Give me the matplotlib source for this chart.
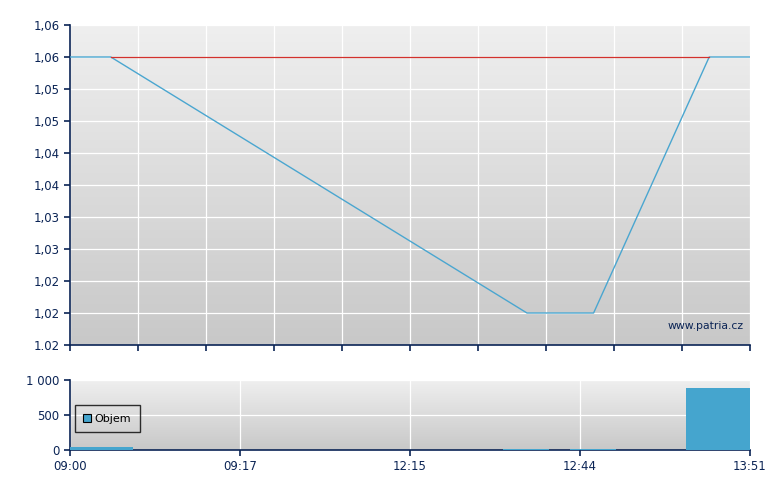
"""Patria-style intraday chart: price line on top, volume bars below."""

import matplotlib

matplotlib.use("Agg")
import matplotlib.pyplot as plt
import numpy as np

# price series on an index axis (0..10)
price_x = [0.0, 0.6, 6.72, 7.7, 9.4, 10.0]
price_y = [1.06, 1.06, 1.02, 1.02, 1.06, 1.06]
ref_price = 1.06
ref_span = [0.6, 9.4]

price_ticks = [1.015, 1.02, 1.025, 1.03, 1.035, 1.04, 1.045, 1.05, 1.055, 1.06, 1.065]
price_labels = ["1.02", "1,02", "1,02", "1,03", "1,03", "1,04", "1,04",
                "1,05", "1,05", "1,06", "1,06"]

# volume bars
vol_left = [0.0, 6.37, 7.35, 9.06]
vol_width = [0.93, 0.68, 0.68, 0.94]
vol_value = [45, 8, 8, 890]

time_pos = [0, 2.5, 5, 7.5, 10]
time_labels = ["09:00", "09:17", "12:15", "12:44", "13:51"]
vol_ticks = [0, 500, 1000]
vol_labels = ["0", "500", "1 000"]

NAVY = "#0B2455"
BLUE = "#4AA6D0"
BAR = "#45A5CE"
RED = "#D2302C"

plt.rcParams["font.family"] = ["DejaVu Sans"]
plt.rcParams["font.size"] = 8


def gradient(ax, top="#EFEFEF", bottom="#C8C8C8"):
    c1 = np.array(matplotlib.colors.to_rgb(top))
    c2 = np.array(matplotlib.colors.to_rgb(bottom))
    t = np.linspace(0, 1, 256)[:, None]
    img = (c1 * (1 - t) + c2 * t)[:, None, :]
    ax.imshow(img, extent=[0, 1, 0, 1], transform=ax.transAxes,
              aspect="auto", zorder=0)


def style(ax):
    for s in ("top", "right"):
        ax.spines[s].set_visible(False)
    for s in ("left", "bottom"):
        ax.spines[s].set_color(NAVY)
        ax.spines[s].set_linewidth(1.2)
    ax.tick_params(colors=NAVY, labelcolor=NAVY, direction="out",
                   length=4, width=1.2, labelsize=8.5)
    ax.set_facecolor("none")


fig = plt.figure(figsize=(7.8, 4.9), dpi=100)
ax1 = fig.add_axes([70 / 780, 1 - 345 / 490, 680 / 780, 320 / 490])
ax2 = fig.add_axes([70 / 780, 1 - 450 / 490, 680 / 780, 70 / 490])

# --- price panel
gradient(ax1)
style(ax1)
ax1.set_xlim(0, 10)
ax1.set_ylim(price_ticks[0], price_ticks[-1])
ax1.set_yticks(price_ticks)
ax1.set_yticklabels(price_labels)
ax1.set_xticks(np.arange(0, 11))
ax1.set_xticklabels([])
ax1.grid(True, color="white", lw=0.9, zorder=1)
ax1.plot(price_x, price_y, color=BLUE, lw=1.0, zorder=3)
ax1.plot(ref_span, [ref_price, ref_price], color=RED, lw=0.9, zorder=4)
ax1.text(0.99, 0.06, "www.patria.cz", transform=ax1.transAxes,
         ha="right", va="center", color=NAVY, fontsize=7.8, zorder=5)

# --- volume panel
gradient(ax2)
style(ax2)
ax2.set_xlim(0, 10)
ax2.set_ylim(0, 1000)
ax2.set_yticks(vol_ticks)
ax2.set_yticklabels(vol_labels)
ax2.set_xticks(time_pos)
ax2.set_xticklabels(time_labels)
ax2.grid(True, color="white", lw=0.9, zorder=1)
ax2.bar(vol_left, vol_value, width=vol_width, align="edge", color=BAR,
        lw=0, zorder=3, label="Objem")
leg = ax2.legend(loc="upper left", bbox_to_anchor=(0.007, 0.64),
                 borderaxespad=0, frameon=True, fancybox=False, fontsize=8,
                 handlelength=0.75, handleheight=0.75, handletextpad=0.3,
                 borderpad=0.75)
leg.get_frame().set_edgecolor("black")
leg.get_frame().set_facecolor("none")
leg.get_frame().set_linewidth(1.0)
for h in leg.legend_handles:
    h.set_edgecolor("black")
    h.set_linewidth(0.8)

fig.savefig("out.png", dpi=100)
